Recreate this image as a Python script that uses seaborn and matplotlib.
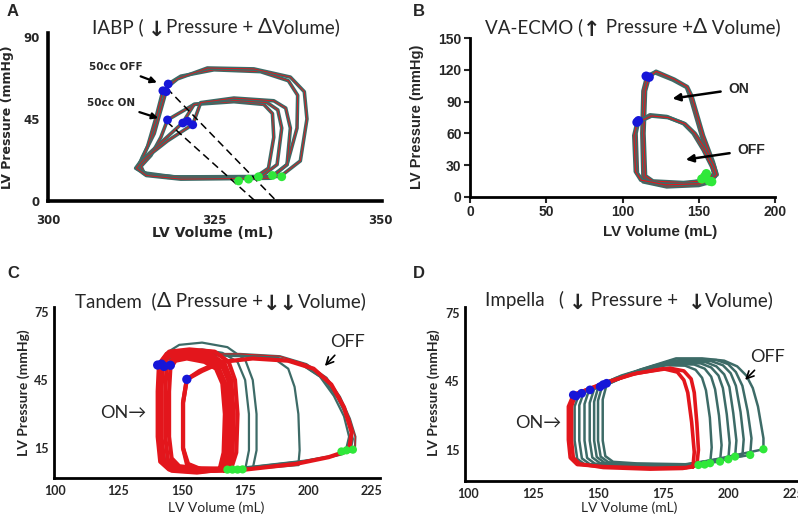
import matplotlib
matplotlib.use("Agg")
import matplotlib.pyplot as plt
import seaborn as sns

sns.set_style("white")
plt.rcParams['font.family'] = ['Lato', 'DejaVu Sans']

TEAL = "#3d6b67"
RED = "#e3161c"
BLUE = "#1616d8"
GREEN = "#2fe83a"

# ---------------- Panel A: IABP (volume mL, pressure mmHg) ----------------
a_loops_v = [
    [333.5, 336.0, 337.5, 337.6, 336.2, 332.0, 325.0, 320.0, 318.1, 317.0, 316.0, 314.2, 313.5, 315.0, 320.0],
    [335.0, 338.0, 339.0, 338.6, 336.5, 331.0, 324.0, 319.5, 317.3, 316.2, 315.0, 313.8, 314.3, 319.0],
    [331.0, 333.2, 334.0, 333.8, 332.5, 328.0, 322.0, 318.0, 317.0, 315.5, 314.0, 314.5, 318.0],
    [332.0, 334.5, 335.2, 334.6, 333.0, 327.0, 322.0, 320.3, 317.0, 314.0, 313.2, 315.0, 320.0],
    [333.5, 336.0, 336.5, 335.8, 334.0, 328.0, 323.0, 321.8, 318.0, 314.5, 313.3, 314.8, 320.0],
]
a_loops_p = [
    [13.0, 20.0, 40.0, 58.0, 66.0, 71.0, 72.0, 68.5, 64.2, 50.0, 37.0, 24.0, 18.0, 14.5, 12.8],
    [13.5, 22.0, 45.0, 60.0, 68.0, 72.5, 73.0, 67.0, 60.5, 45.0, 30.0, 20.0, 15.5, 13.2],
    [12.5, 18.0, 35.0, 48.0, 53.0, 54.5, 53.0, 44.5, 35.0, 25.0, 19.0, 15.0, 13.0],
    [13.0, 20.0, 40.0, 50.0, 54.0, 55.5, 53.0, 43.0, 32.0, 22.0, 18.0, 14.5, 13.0],
    [12.5, 20.0, 40.0, 51.0, 55.0, 56.5, 54.0, 42.0, 33.0, 23.0, 18.0, 14.0, 12.0],
]
a_es_v = [318.1, 317.3, 317.8, 318.0, 320.3, 321.0, 321.8]
a_es_p = [64.2, 60.5, 60.0, 44.5, 42.8, 43.8, 41.8]
a_ed_v = [328.7, 330.2, 331.7, 333.8, 335.2]
a_ed_p = [11.0, 12.0, 13.3, 14.0, 13.3]
a_dash_v = [[317.9, 334.4], [317.9, 331.2]]
a_dash_p = [[61.9, 0.0], [43.5, 0.0]]
a_xticks = [300, 325, 350]
a_yticks = [0, 45, 90]

# ---------------- Panel B: VA-ECMO ----------------
b_loops_v = [
    [155.0, 160.0, 158.5, 152.0, 144.5, 142.0, 133.0, 121.0, 116.0, 113.5, 112.8, 113.5, 118.0, 140.0],
    [158.0, 161.5, 159.5, 153.0, 145.5, 142.5, 134.0, 122.0, 117.5, 115.0, 114.0, 115.0, 120.0, 140.0],
    [155.0, 160.7, 158.5, 153.0, 146.4, 139.9, 129.0, 118.0, 110.4, 108.8, 109.7, 113.6, 129.0, 150.0],
    [156.5, 162.0, 160.0, 154.5, 147.5, 141.0, 130.0, 119.0, 109.5, 107.5, 108.5, 112.0, 128.0, 151.0],
]
b_loops_p = [
    [16.0, 22.0, 32.0, 57.0, 94.0, 103.5, 110.5, 117.5, 114.0, 100.0, 60.0, 19.0, 14.0, 12.5],
    [16.0, 22.0, 33.0, 58.0, 95.0, 104.0, 111.0, 118.5, 113.0, 100.0, 60.0, 20.0, 15.0, 13.5],
    [13.0, 19.2, 28.6, 44.3, 60.0, 69.5, 75.8, 77.4, 71.0, 60.0, 22.4, 14.4, 9.7, 11.0],
    [15.0, 21.0, 30.0, 45.0, 60.0, 69.0, 75.0, 76.5, 70.0, 58.0, 24.0, 16.0, 11.5, 12.5],
]
b_es_v = [115.5, 117.5, 110.5, 109.5]
b_es_p = [114.0, 113.0, 72.0, 70.5]
b_ed_v = [152.0, 154.0, 155.0, 157.0, 158.5]
b_ed_p = [17.0, 19.5, 22.0, 15.0, 14.5]
b_xticks = [0, 50, 100, 150, 200]
b_yticks = [0, 30, 60, 90, 120, 150]

# ---------------- Panel C: Tandem ----------------
c_red_v = [
    [168.0, 170.0, 170.5, 169.5, 167.0, 162.0, 152.0, 144.0, 141.0, 140.5, 140.5, 141.5, 145.0, 155.0],
    [167.0, 168.8, 169.2, 168.3, 166.0, 161.0, 152.0, 145.0, 142.5, 142.0, 142.0, 143.0, 146.5, 155.0],
    [166.0, 167.5, 168.0, 167.0, 164.5, 160.0, 152.0, 146.5, 144.0, 143.5, 143.5, 144.5, 148.0, 156.0],
    [169.5, 171.5, 172.0, 171.0, 168.5, 163.0, 153.0, 145.0, 141.5, 141.2, 141.2, 142.5, 146.0, 156.0],
    [165.0, 166.5, 167.0, 166.0, 163.5, 159.0, 152.0, 147.5, 145.5, 145.0, 145.0, 146.0, 149.0, 157.0],
    [168.0, 169.5, 170.0, 169.0, 166.5, 163.0, 157.0, 152.0, 150.5, 150.5, 152.0, 156.0],
    [216.0, 217.0, 214.0, 209.0, 202.0, 192.0, 178.0, 166.0, 158.0, 152.0, 150.5, 150.5, 152.5, 158.0, 175.0, 195.0, 208.0],
]
c_red_p = [
    [5.5, 12.0, 30.0, 45.0, 52.0, 56.0, 57.5, 56.5, 52.0, 40.0, 20.0, 9.0, 5.5, 4.5],
    [5.0, 12.0, 30.0, 45.0, 51.0, 55.0, 56.5, 55.5, 51.5, 40.0, 20.0, 9.5, 6.0, 5.0],
    [5.5, 12.5, 30.0, 44.0, 50.5, 54.0, 55.5, 54.5, 50.5, 40.0, 20.0, 10.0, 6.5, 5.5],
    [6.0, 13.0, 30.0, 45.0, 53.0, 57.5, 58.5, 57.5, 52.5, 40.0, 20.0, 8.5, 5.0, 4.2],
    [6.0, 13.0, 30.0, 43.5, 50.0, 53.0, 54.5, 53.5, 50.0, 40.0, 20.0, 10.5, 7.0, 6.0],
    [5.5, 12.0, 30.0, 44.0, 50.5, 52.0, 49.0, 45.3, 35.0, 15.0, 8.0, 6.0],
    [14.0, 22.0, 33.0, 43.0, 50.0, 53.5, 54.5, 53.0, 49.0, 45.3, 35.0, 15.0, 8.0, 5.5, 5.5, 8.0, 11.0],
]
c_teal_v = [
    [178.0, 179.5, 179.5, 178.0, 175.0, 168.0, 158.0, 149.0, 144.0, 141.5, 141.0, 141.0, 142.5, 147.0, 160.0],
    [175.0, 176.5, 176.5, 175.0, 172.0, 166.0, 158.0, 150.0, 145.0, 142.5, 142.0, 142.0, 143.5, 148.0, 160.0],
    [196.0, 196.5, 196.0, 194.5, 192.0, 187.0, 175.0, 160.0, 148.0, 143.0, 141.0, 140.8, 141.0, 142.5, 147.0, 165.0, 185.0],
    [218.3, 218.5, 216.3, 212.4, 207.1, 199.2, 188.7, 173.0, 158.0, 148.0, 143.0, 141.0, 140.5, 140.5, 141.5, 145.0, 160.0, 179.5, 199.2, 212.4],
    [216.5, 217.5, 215.5, 211.5, 206.0, 198.0, 188.0, 173.0, 158.0, 148.0, 143.5, 142.0, 141.5, 141.5, 142.5, 146.0, 160.0, 179.5, 199.0, 211.5],
    [214.5, 216.0, 214.0, 210.0, 204.5, 197.0, 187.0, 172.0, 157.0, 148.0, 143.0, 141.5, 141.0, 141.0, 142.0, 145.5, 160.0, 179.0, 198.0, 210.0],
]
c_teal_p = [
    [6.0, 14.0, 30.0, 45.0, 54.0, 59.5, 61.5, 60.5, 57.0, 51.0, 40.0, 20.0, 9.0, 5.0, 4.5],
    [5.5, 14.0, 30.0, 45.0, 53.0, 57.0, 58.5, 57.5, 55.0, 51.0, 40.0, 20.0, 9.0, 5.5, 4.8],
    [7.5, 14.0, 30.0, 42.0, 50.0, 54.0, 56.0, 56.5, 56.0, 53.5, 51.0, 40.0, 20.0, 9.0, 5.5, 5.0, 6.5],
    [14.5, 20.0, 28.0, 37.6, 46.0, 52.0, 55.5, 56.5, 56.5, 56.0, 54.0, 51.0, 40.0, 20.0, 9.0, 5.5, 4.5, 6.5, 9.0, 12.0],
    [13.5, 19.0, 28.0, 37.0, 45.5, 51.5, 54.5, 55.5, 56.0, 55.5, 53.5, 51.0, 40.0, 20.0, 9.5, 6.0, 5.0, 7.0, 9.5, 12.0],
    [13.0, 20.0, 29.0, 38.0, 46.5, 52.0, 55.0, 56.0, 56.5, 56.0, 54.0, 51.5, 40.0, 20.0, 9.0, 5.5, 4.8, 6.8, 9.2, 11.5],
]
c_es_v = [140.5, 142.0, 143.0, 145.5, 152.0]
c_es_p = [51.6, 52.0, 51.0, 51.5, 45.3]
c_ed_v = [168.0, 170.0, 172.0, 174.0, 213.0, 215.0, 217.5]
c_ed_p = [5.5, 5.5, 5.5, 5.6, 13.5, 14.0, 14.3]

# ---------------- Panel D: Impella ----------------
d_red_v = [
    [188.0, 188.6, 188.0, 187.0, 185.8, 183.0, 177.7, 164.9, 152.0, 140.5, 138.6, 138.6, 139.3, 142.0, 152.0, 171.3, 184.0],
    [186.5, 187.0, 186.0, 184.5, 183.0, 180.5, 175.0, 163.0, 151.0, 141.5, 139.8, 139.8, 140.5, 143.0, 152.0, 170.0, 182.5],
]
d_red_p = [
    [8.3, 14.9, 26.6, 40.0, 46.0, 49.5, 50.7, 48.5, 44.1, 39.0, 33.9, 19.3, 11.5, 8.5, 7.6, 6.9, 7.2],
    [7.5, 14.0, 27.0, 40.0, 45.5, 49.0, 50.5, 48.0, 43.5, 39.5, 34.0, 19.0, 11.5, 8.8, 7.2, 6.5, 6.8],
]
d_teal_v = [
    [193.1, 193.7, 193.0, 191.5, 190.0, 187.5, 183.5, 176.0, 168.0, 155.0, 142.8, 141.0, 141.0, 142.0, 145.0, 154.0, 174.0],
    [196.9, 197.5, 196.5, 195.0, 193.5, 191.0, 187.0, 179.0, 170.0, 157.0, 144.5, 142.8, 142.8, 143.8, 146.8, 156.0, 176.0],
    [200.1, 200.6, 199.5, 198.0, 196.3, 193.5, 189.5, 181.0, 172.0, 159.0, 146.5, 144.8, 144.8, 145.8, 148.8, 158.0, 178.0],
    [202.7, 203.2, 202.0, 200.5, 198.5, 195.5, 191.5, 183.0, 174.0, 161.0, 148.5, 146.8, 146.8, 147.8, 150.8, 160.0, 180.0],
    [205.5, 206.0, 204.8, 203.0, 201.0, 198.0, 193.5, 185.0, 176.0, 163.0, 150.0, 148.5, 148.5, 149.5, 152.5, 162.0, 182.0],
    [208.5, 209.0, 207.5, 205.5, 203.0, 200.0, 195.5, 187.0, 178.0, 164.0, 151.5, 150.0, 150.0, 151.0, 154.0, 163.0, 184.0],
    [213.6, 213.6, 211.5, 209.5, 207.0, 203.5, 198.5, 190.0, 180.0, 166.0, 153.3, 151.8, 151.8, 152.8, 155.8, 165.0, 186.0],
]
d_teal_p = [
    [9.1, 16.0, 29.0, 41.0, 46.5, 50.0, 51.8, 52.0, 50.0, 45.5, 39.5, 34.0, 19.0, 11.0, 8.5, 7.8, 7.2],
    [9.8, 17.0, 30.0, 41.5, 47.0, 50.5, 52.3, 52.5, 51.0, 46.5, 40.0, 34.5, 19.0, 11.2, 8.7, 8.0, 7.4],
    [10.8, 18.0, 30.5, 42.0, 47.5, 51.0, 52.8, 53.0, 52.0, 47.5, 41.0, 35.0, 19.0, 11.4, 8.9, 8.2, 7.6],
    [12.0, 19.0, 31.0, 42.5, 48.0, 51.5, 53.3, 53.5, 52.5, 48.0, 41.5, 35.5, 19.0, 11.6, 9.1, 8.4, 8.0],
    [12.3, 19.5, 31.5, 43.0, 48.5, 52.0, 53.8, 54.0, 53.0, 48.5, 42.0, 36.0, 19.0, 11.8, 9.3, 8.6, 8.2],
    [12.7, 20.0, 32.0, 43.0, 49.0, 52.5, 54.3, 54.5, 54.0, 49.0, 42.5, 36.5, 19.0, 12.0, 9.5, 8.8, 8.4],
    [15.2, 20.0, 33.9, 42.0, 47.5, 51.5, 54.0, 55.0, 55.0, 50.0, 43.5, 37.0, 19.0, 12.2, 9.7, 9.0, 8.6],
]
d_es_v = [140.5, 141.5, 143.7, 146.9, 150.8, 152.0, 153.3]
d_es_p = [39.0, 38.5, 39.7, 41.2, 42.6, 43.5, 44.1]
d_ed_v = [188.6, 191.0, 193.1, 196.9, 200.1, 202.7, 208.5, 213.6]
d_ed_p = [8.3, 8.5, 9.1, 9.8, 10.8, 12.0, 12.7, 15.2]
cd_xticks = [100, 125, 150, 175, 200, 225]
cd_yticks = [15, 45, 75]


def draw_loop(ax, v, p, color, lw):
    # close the loop and draw it in recorded order
    sns.lineplot(x=v + v[:1], y=p + p[:1], sort=False, estimator=None,
                 color=color, lw=lw, solid_joinstyle="round", ax=ax)


def dots(ax, v, p, color, s):
    sns.scatterplot(x=v, y=p, color=color, s=s, edgecolor="none", ax=ax, zorder=5)


W, H = 798, 519
fig = plt.figure(figsize=(W / 100, H / 100), dpi=100)
renderer = fig.canvas.get_renderer()


def px_axes(l, t, r, b):
    return fig.add_axes([l / W, 1 - b / H, (r - l) / W, (b - t) / H])


def ftext(x, y, s, **kw):
    return fig.text(x / W, 1 - y / H, s, **kw)


def title(x, base, pieces, size=13.5):
    # pieces of text laid out left to right on one baseline;
    # arrows and deltas drawn a bit larger, like in the original
    for s, kind in pieces:
        if kind == "arrow":
            t = ftext(x, base + 3, s, fontsize=size + 1.5, family="DejaVu Sans",
                      fontweight="bold", va="baseline", ha="left")
        elif kind == "big":
            t = ftext(x, base, s, fontsize=size + 1.5, va="baseline", ha="left")
        else:
            t = ftext(x, base, s, fontsize=size, va="baseline", ha="left")
        x += t.get_window_extent(renderer).width


def style(ax, lw):
    sns.despine(ax=ax)
    for side in ["left", "bottom"]:
        ax.spines[side].set_linewidth(lw)
        ax.spines[side].set_color("black")


# ---- A
axA = px_axes(48, 33, 382, 201)
for v, p in zip(a_loops_v, a_loops_p):
    draw_loop(axA, v, p, TEAL, 2.6)
    draw_loop(axA, v, p, RED, 0.6)
for v, p in zip(a_dash_v, a_dash_p):
    sns.lineplot(x=v, y=p, sort=False, estimator=None, color="black", lw=1.1,
                 linestyle=(0, (5, 3)), ax=axA)
dots(axA, a_es_v, a_es_p, BLUE, 40)
dots(axA, a_ed_v, a_ed_p, GREEN, 40)
axA.set_xlim(300, 350.3)
axA.set_ylim(0, 92.2)
axA.set_xticks(a_xticks)
axA.set_yticks(a_yticks)
axA.tick_params(axis="x", length=0, pad=9)
axA.tick_params(axis="y", length=0, pad=6)
for t in axA.get_xticklabels() + axA.get_yticklabels():
    t.set_family("DejaVu Sans"); t.set_weight("bold"); t.set_fontsize(8.5)
style(axA, 2.6)
axA.set_xlabel(""); axA.set_ylabel("")
axA.annotate("50cc OFF", xy=(316.8, 64.5), xytext=(314.3, 73.5), ha="right", va="center",
             fontsize=7.5, fontweight="bold", family="DejaVu Sans",
             arrowprops=dict(arrowstyle="-|>", color="black", lw=1.6, mutation_scale=9))
axA.annotate("50cc ON", xy=(317.0, 45.0), xytext=(313.1, 53.8), ha="right", va="center",
             fontsize=7.5, fontweight="bold", family="DejaVu Sans",
             arrowprops=dict(arrowstyle="-|>", color="black", lw=1.6, mutation_scale=9))

# ---- B
axB = px_axes(470, 38, 775, 197)
for v, p in zip(b_loops_v, b_loops_p):
    draw_loop(axB, v, p, TEAL, 2.8)
    draw_loop(axB, v, p, RED, 0.8)
dots(axB, b_es_v, b_es_p, BLUE, 45)
dots(axB, b_ed_v, b_ed_p, GREEN, 45)
axB.set_xlim(0, 200)
axB.set_ylim(0, 150)
axB.set_xticks(b_xticks)
axB.set_yticks(b_yticks)
axB.tick_params(length=4, width=1.5, pad=2, direction="out", bottom=True, left=True)
for t in axB.get_xticklabels() + axB.get_yticklabels():
    t.set_family("Liberation Sans"); t.set_weight("bold"); t.set_fontsize(10)
style(axB, 2.0)
axB.set_xlabel(""); axB.set_ylabel("")
axB.annotate("ON", xy=(131.0, 92.5), xytext=(169.2, 101.9), ha="left", va="center",
             fontsize=10, fontweight="bold", family="Liberation Sans",
             arrowprops=dict(arrowstyle="-|>", color="black", lw=1.8, mutation_scale=11,
                             shrinkA=3))
axB.annotate("OFF", xy=(139.7, 34.9), xytext=(175.1, 44.3), ha="left", va="center",
             fontsize=10, fontweight="bold", family="Liberation Sans",
             arrowprops=dict(arrowstyle="-|>", color="black", lw=1.8, mutation_scale=11,
                             shrinkA=3))

# ---- C
axC = px_axes(54, 307, 380, 478)
for v, p in zip(c_teal_v, c_teal_p):
    draw_loop(axC, v, p, TEAL, 1.6)
for v, p in zip(c_red_v, c_red_p):
    draw_loop(axC, v, p, RED, 3.0)
draw_loop(axC, c_teal_v[3], c_teal_p[3], RED, 0.7)
dots(axC, c_es_v, c_es_p, BLUE, 45)
dots(axC, c_ed_v, c_ed_p, GREEN, 35)
axC.set_xlim(99.6, 228.2)
axC.set_ylim(1.8, 77.2)

# ---- D
axD = px_axes(465, 307, 797, 481)
for v, p in zip(d_teal_v, d_teal_p):
    draw_loop(axD, v, p, TEAL, 1.8)
for v, p in zip(d_red_v, d_red_p):
    draw_loop(axD, v, p, RED, 2.6)
dots(axD, d_es_v, d_es_p, BLUE, 40)
dots(axD, d_ed_v, d_ed_p, GREEN, 35)
axD.set_xlim(98.85, 226.5)
axD.set_ylim(1.3, 77.5)

for ax in (axC, axD):
    ax.set_xticks(cd_xticks)
    ax.set_yticks(cd_yticks)
    ax.tick_params(axis="x", length=0, pad=5)
    ax.tick_params(axis="y", length=0, pad=4)
    for t in ax.get_xticklabels() + ax.get_yticklabels():
        t.set_weight("bold"); t.set_fontsize(9)
    style(ax, 2.0)
    ax.set_xlabel(""); ax.set_ylabel("")

axC.text(117.7, 30.4, "ON\u2192", fontsize=13, va="center", ha="left")
axC.annotate("OFF", xy=(205.7, 50.3), xytext=(208.4, 61.8), ha="left", va="center",
             fontsize=13, arrowprops=dict(arrowstyle="->", color="black", lw=1.2))
axD.text(118.1, 26.7, "ON\u2192", fontsize=13, va="center", ha="left")
axD.annotate("OFF", xy=(205.8, 44.7), xytext=(208.5, 55.6), ha="left", va="center",
             fontsize=13, arrowprops=dict(arrowstyle="->", color="black", lw=1.2))

# ---- titles, labels, panel letters
title(92, 33, [("IABP ( ", "txt"), ("\u2193", "arrow"), ("Pressure + ", "txt"),
               ("\u0394", "big"), ("Volume)", "txt")])
title(485, 33, [("VA-ECMO (", "txt"), ("\u2191", "arrow"), (" Pressure +", "txt"),
                ("\u0394", "big"), (" Volume)", "txt")])
title(75, 307, [("Tandem  (", "txt"), ("\u0394", "big"), (" Pressure +", "txt"),
                ("\u2193\u2193", "arrow"), ("Volume)", "txt")])
title(485, 306, [("Impella   ( ", "txt"), ("\u2193", "arrow"), (" Pressure +  ", "txt"),
                 ("\u2193", "arrow"), ("Volume)", "txt")])

lkw = dict(fontsize=12, fontweight="bold", family="Liberation Sans", va="center", ha="left")
ftext(7, 12, "A", **lkw)
ftext(413, 11, "B", **lkw)
ftext(7, 273, "C", **lkw)
ftext(413, 273, "D", **lkw)

ftext(213, 233, "LV Volume (mL)", fontsize=10, fontweight="bold", family="DejaVu Sans",
      ha="center", va="center")
ftext(8, 117, "LV Pressure (mmHg)", fontsize=9, fontweight="bold", family="DejaVu Sans",
      ha="center", va="center", rotation=90)
ftext(660, 232, "LV Volume (mL)", fontsize=11, fontweight="bold", family="Liberation Sans",
      ha="center", va="center")
ftext(417, 117, "LV Pressure (mmHg)", fontsize=10.5, fontweight="bold", family="Liberation Sans",
      ha="center", va="center", rotation=90)
ftext(216, 508, "LV Volume (mL)", fontsize=10, ha="center", va="center")
ftext(24, 393, "LV Pressure (mmHg)", fontsize=10, fontweight="bold", ha="center", va="center",
      rotation=90)
ftext(629, 508, "LV Volume (mL)", fontsize=10, ha="center", va="center")
ftext(434, 393, "LV Pressure (mmHg)", fontsize=10, fontweight="bold", ha="center", va="center",
      rotation=90)

fig.savefig("out.png", dpi=100)
